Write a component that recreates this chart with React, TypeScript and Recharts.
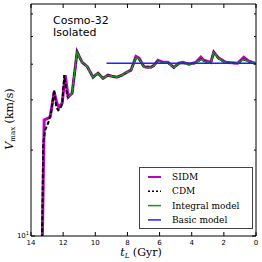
import { LineChart, Line, XAxis, YAxis, Legend } from 'recharts';

// t_L (Gyr) and V_max (km/s)
const sidmT = [13.31, 13.18, 12.99, 12.81, 12.56, 12.37, 12.25, 12.06, 11.87, 11.69, 11.44, 11.13, 10.82, 10.51, 10.14, 9.83, 9.52, 9.21, 8.96, 8.65, 8.34, 8.03, 7.78, 7.47, 7.28, 6.97, 6.54, 6.35, 6.1, 5.79, 5.48, 5.11, 4.8, 4.55, 4.18, 3.74, 3.43, 3.25, 2.81, 2.63, 2.32, 1.88, 1.14, 0.76, 0.45, 0.08];
const sidmV = [8.5, 25.5, 25.8, 26.1, 31.9, 29.0, 28.3, 29.2, 36.6, 30.7, 31.7, 44.1, 40.6, 39.3, 36.0, 37.2, 35.7, 36.6, 36.3, 36.0, 36.6, 37.5, 38.1, 42.6, 42.0, 39.2, 39.0, 39.7, 41.3, 40.6, 40.6, 39.0, 40.3, 40.6, 40.0, 40.6, 42.3, 41.3, 40.6, 44.1, 42.0, 40.6, 40.3, 42.3, 41.0, 40.3];

const cdmT = [13.33, 13.27, 13.24, 13.12, 12.93, 12.75, 12.56, 12.43, 12.31, 12.18, 12.06, 11.93, 11.75, 11.69, 11.44, 11.13, 10.82, 10.51, 10.14, 9.83, 9.52, 9.21, 8.96, 8.65, 8.34, 8.03, 7.78, 7.47, 7.28, 6.97, 6.54, 6.35, 6.1, 5.79, 5.48, 5.11, 4.8, 4.55, 4.18, 3.74, 3.43, 3.25, 2.81, 2.63, 2.32, 1.88, 1.14, 0.76, 0.45, 0.08];
const cdmV = [8.5, 15.0, 21.2, 23.5, 24.9, 27.0, 32.5, 28.3, 27.6, 28.0, 29.0, 36.6, 31.0, 30.7, 31.7, 44.1, 40.6, 39.3, 36.0, 37.2, 35.7, 36.6, 36.3, 36.0, 36.6, 37.5, 38.1, 42.0, 41.8, 39.0, 38.9, 39.5, 41.0, 40.4, 40.4, 38.9, 40.2, 40.4, 40.0, 40.4, 41.6, 41.0, 40.4, 44.1, 41.8, 40.4, 40.3, 41.6, 40.8, 40.3];

const integralT = [11.69, 11.44, 11.13, 10.82, 10.51, 10.14, 9.83, 9.52, 9.21, 8.96, 8.65, 8.34, 8.03, 7.78, 7.47, 7.28, 6.97, 6.54, 6.35, 6.1, 5.79, 5.48, 5.11, 4.8, 4.55, 4.18, 3.74, 3.43, 3.25, 2.81, 2.63, 2.32, 1.88, 1.14, 0.76, 0.45, 0.08];
const integralV = [30.7, 31.7, 44.1, 40.6, 39.3, 36.0, 37.2, 35.7, 36.6, 36.3, 36.0, 36.6, 37.5, 38.1, 42.0, 41.8, 39.0, 38.9, 39.5, 41.0, 40.4, 40.4, 38.9, 40.2, 40.4, 40.0, 40.4, 41.6, 41.0, 40.4, 44.1, 41.8, 40.4, 40.3, 41.6, 40.8, 40.3];

const basicT = [9.3, 0];
const basicV = [40.3, 40.3];

const xTicks = [0, 2, 4, 6, 8, 10, 12, 14];
const yTicks = [10, 20, 30, 40, 50, 60];

const toPoints = (ts: number[], vs: number[]) => ts.map((t, i) => ({ t, v: vs[i] }));

const series = [
  { name: 'SIDM', data: toPoints(sidmT, sidmV), color: '#bf00bf', width: 3, dash: undefined },
  { name: 'CDM', data: toPoints(cdmT, cdmV), color: '#000000', width: 2, dash: '4 2' },
  { name: 'Integral model', data: toPoints(integralT, integralV), color: '#119911', width: 1.5, dash: undefined },
  { name: 'Basic model', data: toPoints(basicT, basicV), color: '#2020ff', width: 1.5, dash: undefined },
];

const serif = 'DejaVu Serif';
const sans = 'DejaVu Sans';

function BottomTick({ x, y, payload }: any) {
  return (
    <g>
      <line x1={x} x2={x} y1={y} y2={y - 4} stroke="#000" />
      <text x={x} y={y + 9} textAnchor="middle" fontSize={7} fontFamily={sans}>
        {payload.value}
      </text>
    </g>
  );
}

function TopTick({ x, y }: any) {
  return <line x1={x} x2={x} y1={y} y2={y + 4} stroke="#000" />;
}

function LeftTick({ x, y, payload }: any) {
  const major = payload.value === 10;
  return (
    <g>
      <line x1={x} x2={x + (major ? 4 : 2)} y1={y} y2={y} stroke="#000" />
      {major && (
        <text x={x - 2} y={y + 2} textAnchor="end" fontSize={7} fontFamily={sans}>
          10<tspan dy={-3} fontSize={5}>1</tspan>
        </text>
      )}
    </g>
  );
}

function RightTick({ x, y, payload }: any) {
  const major = payload.value === 10;
  return <line x1={x} x2={x - (major ? 4 : 2)} y1={y} y2={y} stroke="#000" />;
}

function LegendBox() {
  return (
    <svg width={114} height={62} style={{ display: 'block' }}>
      <rect x={0.5} y={0.5} width={113} height={61} fill="#fff" stroke="#444" />
      {series.map((s, i) => {
        const cy = 10 + i * 14.3;
        return (
          <g key={s.name}>
            <line x1={9} x2={22} y1={cy} y2={cy} stroke={s.color} strokeWidth={s.width === 3 ? 2 : 1.5} strokeDasharray={s.dash ? '2 2' : undefined} />
            <text x={33} y={cy + 3} fontSize={9} fontFamily={serif}>{s.name}</text>
          </g>
        );
      })}
    </svg>
  );
}

export default function App() {
  return (
    <div style={{ position: 'absolute', left: 0, top: 0, width: 262, height: 262, background: '#fff' }}>
      <LineChart width={262} height={262} margin={{ top: 3, right: 0, bottom: 0, left: 0 }}>
        <XAxis
          xAxisId="bottom"
          dataKey="t"
          type="number"
          domain={[0, 14]}
          reversed
          ticks={xTicks}
          height={26}
          tickSize={0}
          tickMargin={0}
          tickLine={false}
          axisLine={{ stroke: '#000' }}
          tick={<BottomTick />}
          interval={0}
          allowDataOverflow
        />
        <XAxis
          xAxisId="top"
          orientation="top"
          dataKey="t"
          type="number"
          domain={[0, 14]}
          reversed
          ticks={xTicks}
          height={1}
          tickSize={0}
          tickMargin={0}
          tickLine={false}
          axisLine={{ stroke: '#000' }}
          tick={<TopTick />}
          interval={0}
          allowDataOverflow
        />
        <YAxis
          yAxisId="left"
          scale="log"
          type="number"
          domain={[10, 65]}
          ticks={yTicks}
          width={31}
          tickSize={0}
          tickMargin={0}
          tickLine={false}
          axisLine={{ stroke: '#000' }}
          tick={<LeftTick />}
          interval={0}
          allowDataOverflow
        />
        <YAxis
          yAxisId="right"
          orientation="right"
          scale="log"
          type="number"
          domain={[10, 65]}
          ticks={yTicks}
          width={6}
          tickSize={0}
          tickMargin={0}
          tickLine={false}
          axisLine={{ stroke: '#000' }}
          tick={<RightTick />}
          interval={0}
          allowDataOverflow
        />
        {series.map((s) => (
          <Line
            key={s.name}
            name={s.name}
            data={s.data}
            dataKey="v"
            xAxisId="bottom"
            yAxisId="left"
            type="linear"
            stroke={s.color}
            strokeWidth={s.width}
            strokeDasharray={s.dash}
            dot={false}
            activeDot={false}
            isAnimationActive={false}
          />
        ))}
        <Legend
          layout="horizontal"
          verticalAlign="middle"
          align="center"
          content={() => <LegendBox />}
          wrapperStyle={{ position: 'absolute', left: 139, top: 167, width: 114, height: 62 }}
        />
      </LineChart>
      <svg width={262} height={262} style={{ position: 'absolute', left: 0, top: 0, pointerEvents: 'none' }}>
        <text x={53} y={24} fontSize={11} fontFamily={sans}>Cosmo-32</text>
        <text x={53} y={36} fontSize={11} fontFamily={sans}>Isolated</text>
        <text transform="translate(13,119) rotate(-90)" textAnchor="middle" fontSize={11} fontFamily={serif}>
          <tspan fontStyle="italic">V</tspan>
          <tspan fontSize={7} dy={2}>max</tspan>
          <tspan dy={-2}> (km/s)</tspan>
        </text>
        <text x={141} y={256} textAnchor="middle" fontSize={11} fontFamily={serif}>
          <tspan fontStyle="italic">t</tspan>
          <tspan fontSize={7} dy={2} fontStyle="italic">L</tspan>
          <tspan dy={-2}> (Gyr)</tspan>
        </text>
      </svg>
    </div>
  );
}
